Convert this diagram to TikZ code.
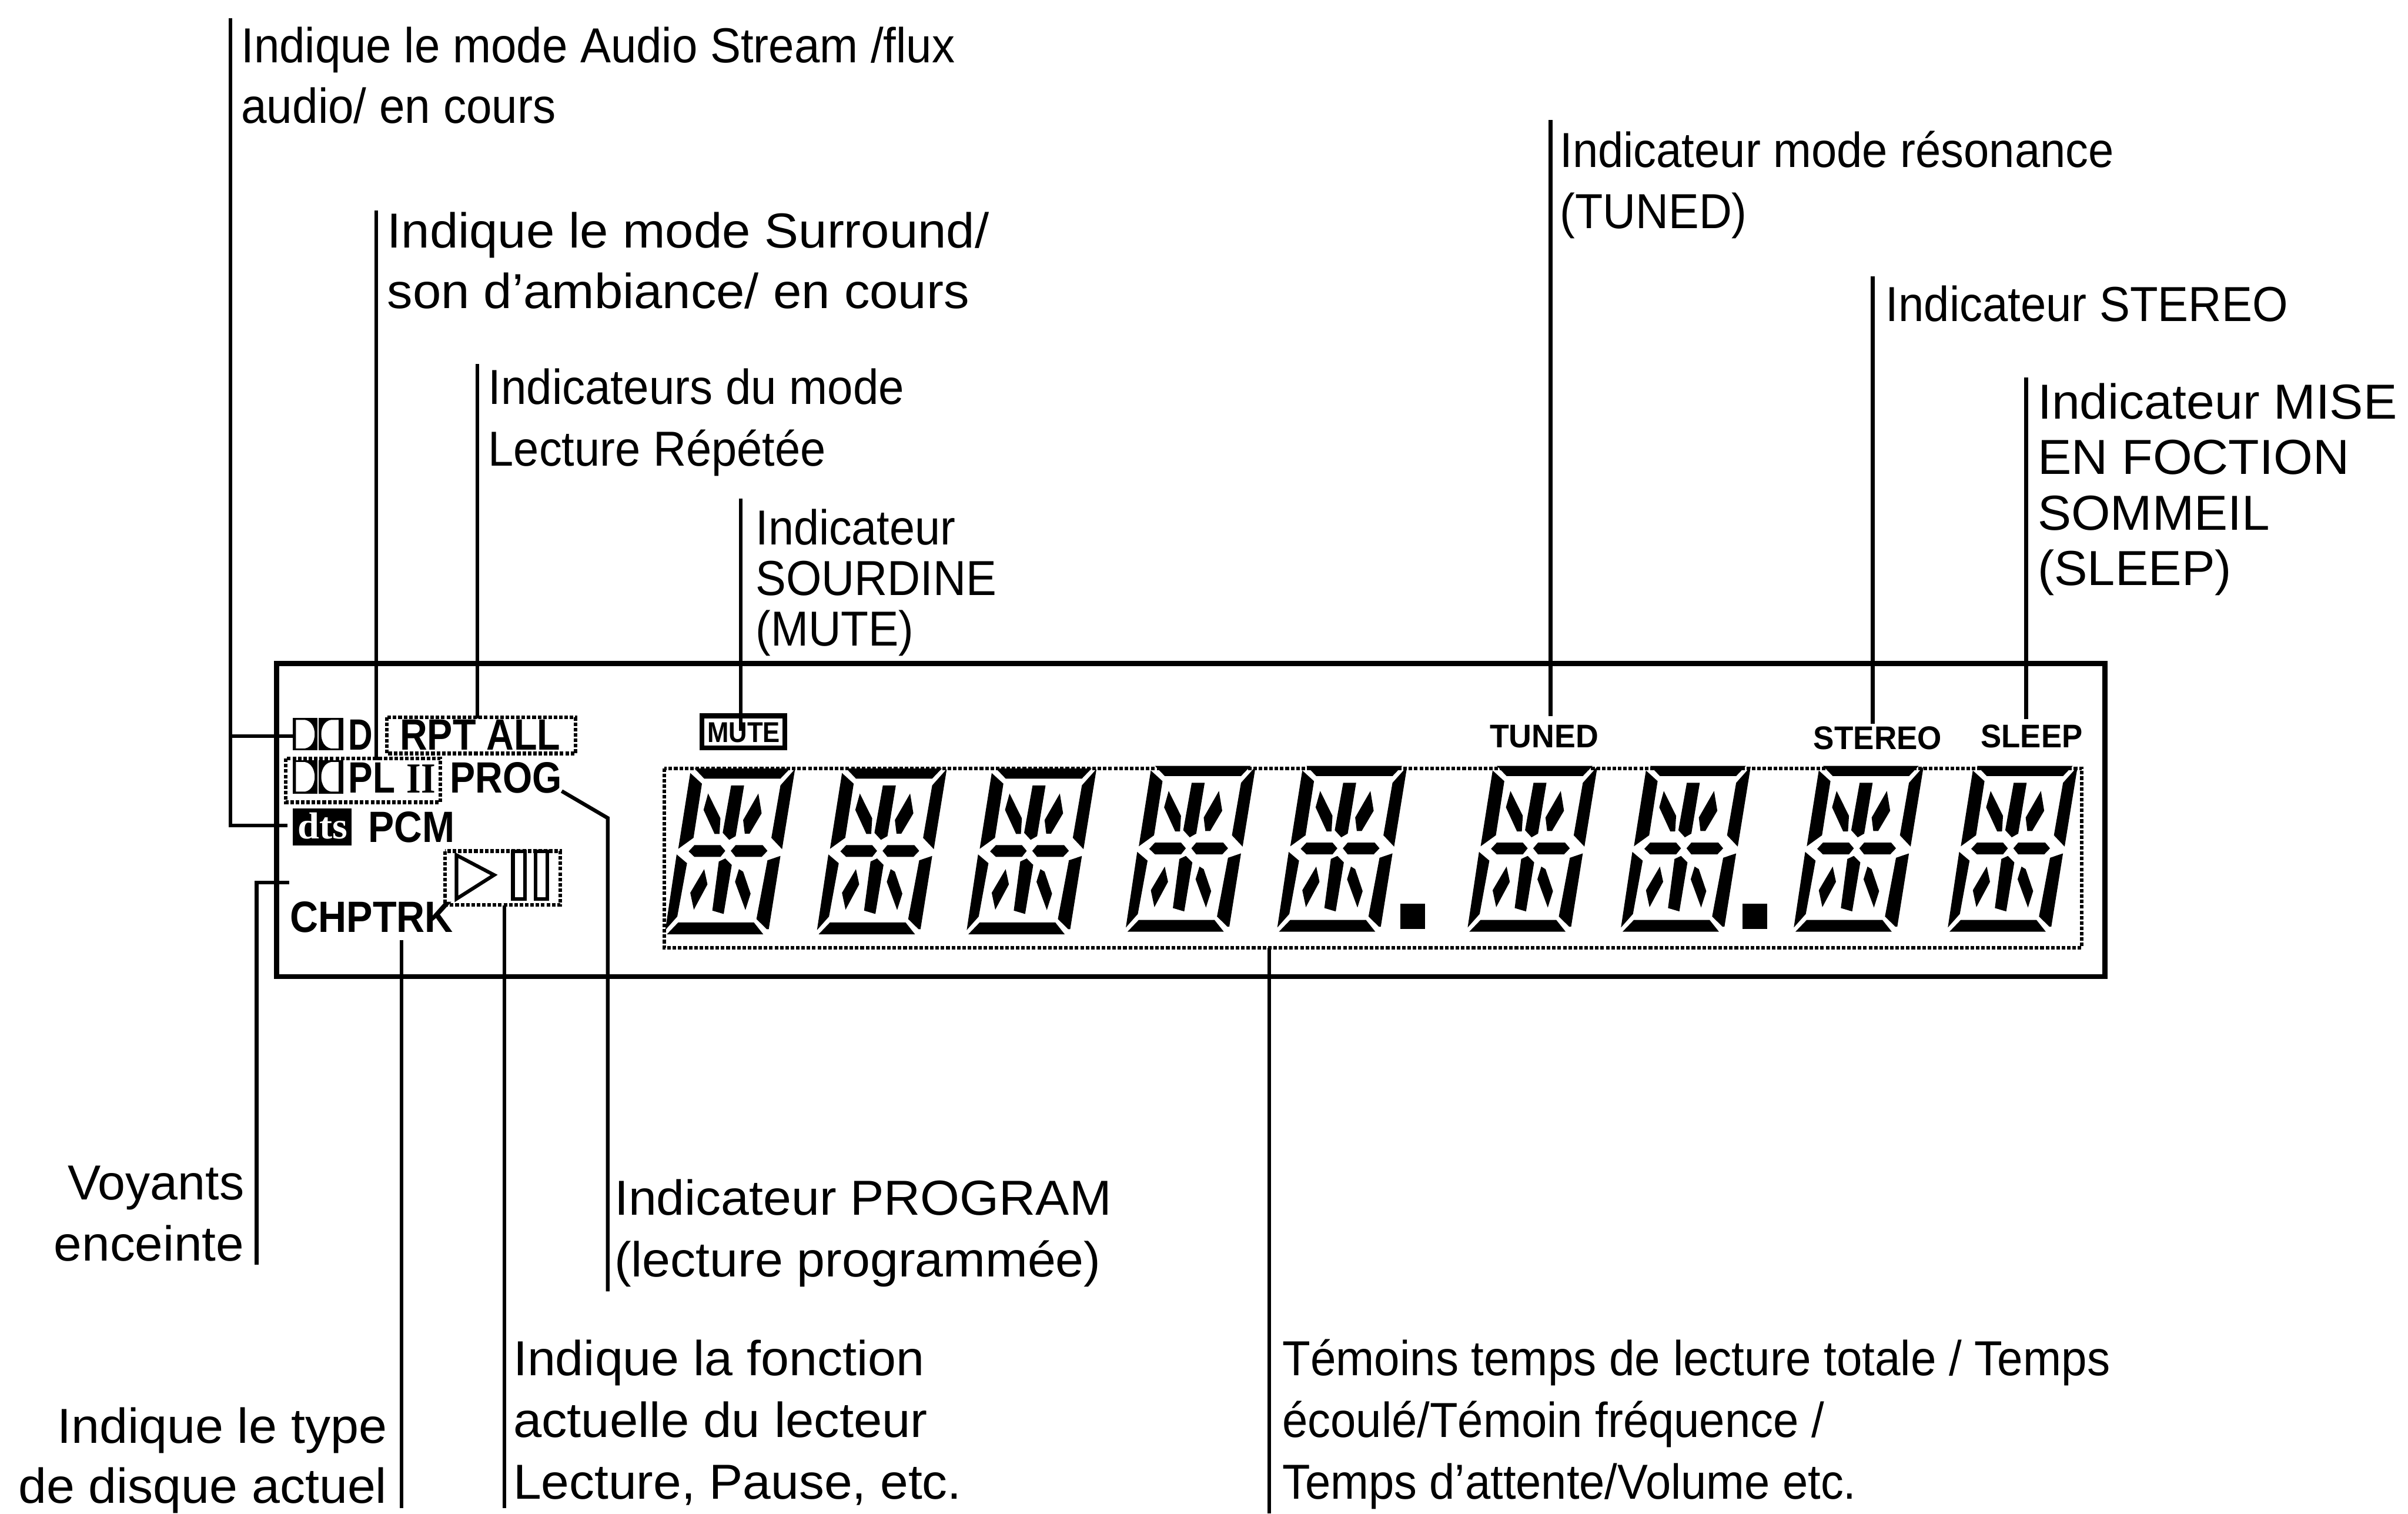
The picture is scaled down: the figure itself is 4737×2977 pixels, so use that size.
\documentclass[tikz,border=0pt]{standalone}
\usepackage{fontspec}
\usepackage{graphicx}
\setmainfont{Liberation Sans}
\newfontfamily\serifb{Liberation Serif}[BoldFont={Liberation Serif Bold}]
\newlength\pxu \setlength\pxu{0.01cm}
\newcommand\fitw[2]{\resizebox{#1\pxu}{\height}{#2}}
\newcommand\lcddigit[2]{%
\begin{scope}[shift={(#1,#2)},x=0.006378cm,y=-0.003333cm]
\fill (135,335)--(430,335)--(400,395)--(165,395)--cycle
 (122,362)--(158,425)--(132,745)--(85,810)--cycle
 (445,338)--(400,435)--(372,745)--(405,812)--cycle
 (177,483)--(215,630)--(212,722)--(197,722)--(163,580)--cycle
 (248,435)--(288,435)--(262,735)--(242,757)--(222,715)--cycle
 (332,483)--(342,600)--(305,720)--(290,720)--(285,640)--cycle
 (135,788)--(215,788)--(230,822)--(215,858)--(135,858)--(117,825)--cycle
 (262,788)--(345,788)--(360,822)--(342,858)--(262,858)--(247,822)--cycle
 (80,843)--(112,895)--(82,1210)--(45,1290)--cycle
 (400,852)--(360,878)--(326,1225)--(358,1285)--(364,1285)--cycle
 (230,867)--(250,905)--(225,1195)--(190,1175)--(210,885)--cycle
 (165,930)--(175,1020)--(133,1170)--(122,1070)--cycle
 (272,930)--(285,945)--(308,1075)--(292,1172)--(260,1005)--cycle
 (85,1245)--(318,1245)--(347,1315)--(50,1315)--cycle;
\end{scope}}
\newcommand\ddlogo[3]{%
\fill (#1,#2) rectangle ++(48,#3);
\fill (#1+51,#2) rectangle ++(48,#3);
\fill[white] (#1+6,#2+4) -- (#1+24,#2+4) .. controls (#1+36,#2+6) and (#1+43,#2+#3/2-14) .. (#1+43,#2+#3/2)
  .. controls (#1+43,#2+#3/2+14) and (#1+36,#2+#3-6) .. (#1+24,#2+#3-4) -- (#1+6,#2+#3-4) -- cycle;
\fill[white] (#1+90,#2+4) -- (#1+75,#2+4) .. controls (#1+63,#2+6) and (#1+56,#2+#3/2-14) .. (#1+56,#2+#3/2)
  .. controls (#1+56,#2+#3/2+14) and (#1+63,#2+#3-6) .. (#1+75,#2+#3-4) -- (#1+90,#2+#3-4) -- cycle;}
\tikzset{
 lbl/.style={inner sep=0pt,anchor=base west,font=\fontsize{27.5}{30}\selectfont},
 lblr/.style={inner sep=0pt,anchor=base east,font=\fontsize{27.5}{30}\selectfont},
 ind/.style={inner sep=0pt,anchor=base west,font=\bfseries\fontsize{24.5}{28}\selectfont},
 indsm/.style={inner sep=0pt,anchor=base west,font=\bfseries\fontsize{18.3}{22}\selectfont},
 leader/.style={line width=2.1pt},
 frame/.style={line width=2.85pt},
 dots/.style={line width=2pt,dash pattern=on 2pt off 1pt},
}
\begin{document}
\begin{tikzpicture}[x=0.01cm,y=-0.01cm]
\useasboundingbox (0,0) rectangle (4737,2977);
% display frame
\draw[frame] (544,1305) rectangle (4141,1921);
% dotted boxes
\draw[dots] (1307,1511) rectangle (4095,1864);
\draw[dots] (761,1411) rectangle (1132,1482);
\draw[dots] (562,1492) rectangle (866,1578);
\draw[dots] (875,1674) rectangle (1102,1780);
% digits
\lcddigit{1280}{1400}
\lcddigit{1578.5}{1400}
\lcddigit{1873}{1400}
\lcddigit{2186}{1395}
\lcddigit{2484}{1395}
\lcddigit{2858.4}{1395}
\lcddigit{3160}{1395}
\lcddigit{3500}{1395}
\lcddigit{3803}{1395}
\fill (2755,1777) rectangle (2803,1827);
\fill (3428,1777) rectangle (3476,1827);
% logos and indicators
\ddlogo{576}{1412}{64}
\ddlogo{576}{1495}{66}
\node[ind] (iD) at (684,1475) {\fitw{48}{D}};
\node[ind] (iRPT) at (786,1475) {\fitw{316}{RPT ALL}};
\node[ind] (iPL) at (685,1560) {\fitw{92}{PL}};
\node[inner sep=0pt,anchor=base west,font=\serifb\bfseries\fontsize{24}{28}\selectfont] (iII) at (799,1560) {\fitw{57}{II}};
\node[ind] (iPROG) at (885,1560) {\fitw{220}{PROG}};
\fill (576,1590) rectangle (692,1663);
\node[inner sep=0pt,anchor=base west,text=white,font=\serifb\bfseries\fontsize{21}{24}\selectfont] (iDTS) at (585,1650) {\fitw{98}{dts}};
\node[ind] (iPCM) at (724,1657) {\fitw{170}{PCM}};
\node[ind] (iCHP) at (570,1833) {\fitw{321}{CHPTRK}};
\draw[line width=2pt,line join=miter] (898,1682) -- (972,1721) -- (898,1768) -- cycle;
\draw[line width=2pt] (1009,1675) rectangle (1033,1768);
\draw[line width=2pt] (1054,1675) rectangle (1077,1768);
\draw[line width=2.85pt,fill=white] (1381,1408) rectangle (1544,1471);
\node[inner sep=0pt,anchor=base west,font=\bfseries\fontsize{16}{18}\selectfont] (iMUTE) at (1391,1460) {\fitw{143}{MUTE}};
\node[indsm] (iTUNED) at (2930,1471) {\fitw{214}{TUNED}};
\node[indsm] (iSTEREO) at (3567,1474) {\fitw{252}{STEREO}};
\node[indsm] (iSLEEP) at (3896,1471) {\fitw{200}{SLEEP}};
% labels
\node[lbl] (l1a) at (474,123) {\fitw{1404}{Indique le mode Audio Stream /flux}};
\node[lbl] (l1b) at (474,242) {\fitw{619}{audio/ en cours}};
\node[lbl] (l2a) at (761,487) {\fitw{1184}{Indique le mode Surround/}};
\node[lbl] (l2b) at (761,607) {\fitw{1145}{son d’ambiance/ en cours}};
\node[lbl] (l3a) at (960,795) {\fitw{818}{Indicateurs du mode}};
\node[lbl] (l3b) at (960,916) {\fitw{664}{Lecture Répétée}};
\node[lbl] (l4a) at (1486,1071) {\fitw{393}{Indicateur}};
\node[lbl] (l4b) at (1486,1171) {\fitw{474}{SOURDINE}};
\node[lbl] (l4c) at (1486,1270) {\fitw{311}{(MUTE)}};
\node[lbl] (l5a) at (3068,329) {\fitw{1090}{Indicateur mode résonance}};
\node[lbl] (l5b) at (3068,449) {\fitw{368}{(TUNED)}};
\node[lbl] (l6) at (3709,632) {\fitw{791}{Indicateur STEREO}};
\node[lbl] (l7a) at (4008,824) {\fitw{707}{Indicateur MISE}};
\node[lbl] (l7b) at (4008,933) {\fitw{613}{EN FOCTION}};
\node[lbl] (l7c) at (4008,1042) {\fitw{456}{SOMMEIL}};
\node[lbl] (l7d) at (4008,1151) {\fitw{381}{(SLEEP)}};
\node[lblr] (l8a) at (481,2360) {\fitw{347}{Voyants}};
\node[lblr] (l8b) at (481,2480) {\fitw{374}{enceinte}};
\node[lbl] (l9a) at (1208,2390) {\fitw{978}{Indicateur PROGRAM}};
\node[lbl] (l9b) at (1208,2511) {\fitw{957}{(lecture programmée)}};
\node[lblr] (l10a) at (762,2838) {\fitw{649}{Indique le type}};
\node[lblr] (l10b) at (762,2957) {\fitw{725}{de disque actuel}};
\node[lbl] (l11a) at (1009,2706) {\fitw{809}{Indique la fonction}};
\node[lbl] (l11b) at (1009,2827) {\fitw{815}{actuelle du lecteur}};
\node[lbl] (l11c) at (1009,2948) {\fitw{882}{Lecture, Pause, etc.}};
\node[lbl] (l12a) at (2522,2706) {\fitw{1628}{Témoins temps de lecture totale / Temps}};
\node[lbl] (l12b) at (2522,2827) {\fitw{1066}{écoulé/Témoin fréquence /}};
\node[lbl] (l12c) at (2522,2948) {\fitw{1129}{Temps d’attente/Volume etc.}};
% leader ends
\coordinate (a0) at (453,36); \coordinate (a1) at (453,1624); \coordinate (a2) at (566,1624);
\coordinate (a3) at (453,1448); \coordinate (a4) at (576,1448);
\coordinate (b0) at (740,414); \coordinate (b1) at (740,1495);
\coordinate (c0) at (939,716); \coordinate (c1) at (939,1413);
\coordinate (d0) at (1457,981); \coordinate (d1) at (1457,1437);
\coordinate (e0) at (3050,236); \coordinate (e1) at (3050,1409);
\coordinate (f0) at (3684,544); \coordinate (f1) at (3684,1424);
\coordinate (g0) at (3986,743); \coordinate (g1) at (3986,1414);
\coordinate (h0) at (505,2488); \coordinate (h1) at (505,1736); \coordinate (h2) at (569,1736);
\coordinate (i0) at (790,2966); \coordinate (i1) at (790,1849);
\coordinate (j0) at (992,2966); \coordinate (j1) at (992,1781);
\coordinate (k0) at (1195.5,2540); \coordinate (k1) at (1195.5,1609); \coordinate (k2) at (1105,1556);
\coordinate (m0) at (2497,2977); \coordinate (m1) at (2497,1864);
\draw[leader] (a0) -- (a1) -- (a2);
\draw[leader] (a3) -- (a4);
\draw[leader] (b0) -- (b1);
\draw[leader] (c0) -- (c1);
\draw[leader] (d0) -- (d1);
\draw[leader] (e0) -- (e1);
\draw[leader] (f0) -- (f1);
\draw[leader] (g0) -- (g1);
\draw[leader] (h0) -- (h1) -- (h2);
\draw[leader] (i0) -- (i1);
\draw[leader] (j0) -- (j1);
\draw[leader] (k0) -- (k1) -- (k2);
\draw[leader] (m0) -- (m1);
\end{tikzpicture}
\end{document}
